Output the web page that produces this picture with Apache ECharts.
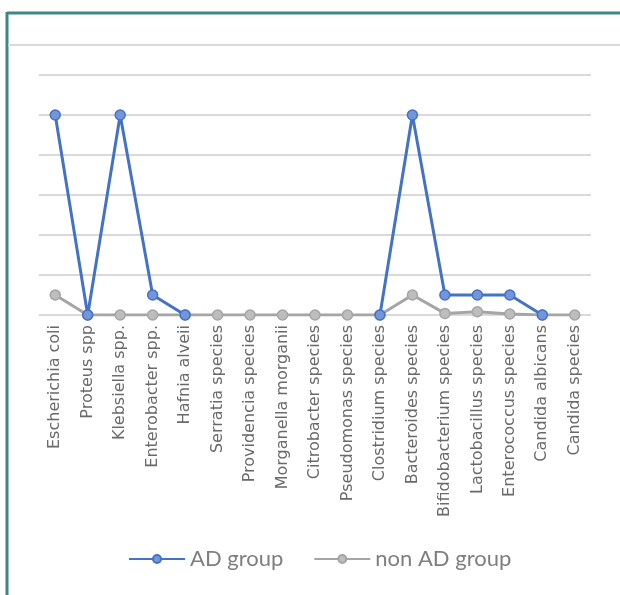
<!DOCTYPE html>
<html>
<head>
<meta charset="utf-8">
<script src="https://cdn.jsdelivr.net/npm/echarts@6/dist/echarts.min.js"></script>
<style>
  html, body { margin: 0; padding: 0; background: #fff; }
  #chart { width: 620px; height: 595px; }
</style>
</head>
<body>
<div id="chart"></div>
<script>
// Microorganism categories along the x axis
const categories = [
  'Escherichia coli', 'Proteus spp', 'Klebsiella spp.', 'Enterobacter spp.',
  'Hafnia alveii', 'Serratia species', 'Providencia species', 'Morganella morganii',
  'Citrobacter species', 'Pseudomonas species', 'Clostridium species', 'Bacteroides species',
  'Bifidobacterium species', 'Lactobacillus species', 'Enterococcus species',
  'Candida albicans', 'Candida species'
];

// Series values (AD group ends at Candida albicans)
const adGroup = [5, 0, 5, 0.5, 0, null, null, null, null, null, 0, 5, 0.5, 0.5, 0.5, 0, null];
const nonAdGroup = [0.5, 0, 0, 0, 0, 0, 0, 0, 0, 0, 0, 0.5, 0.04, 0.08, 0.025, 0, 0];

const seriesNames = ['AD group', 'non AD group'];

const chart = echarts.init(document.getElementById('chart'));

chart.setOption({
  animation: false,
  backgroundColor: '#ffffff',
  grid: { left: 39, right: 29, top: 75, height: 240, containLabel: false },
  legend: {
    data: seriesNames,
    top: 543,
    left: 123,
    itemWidth: 56,
    itemHeight: 10,
    itemGap: 30,
    textStyle: { fontFamily: 'Lato', fontSize: 22, color: '#7f7f7f', padding: [0, 0, 0, 0] }
  },
  xAxis: {
    type: 'category',
    data: categories,
    boundaryGap: true,
    axisLine: { show: false },
    axisTick: { show: false },
    axisLabel: {
      rotate: 90,
      interval: 0,
      margin: 10,
      fontFamily: 'DejaVu Sans',
      fontSize: 16,
      color: '#6a6a6a'
    }
  },
  yAxis: {
    type: 'value',
    min: 0,
    max: 6,
    interval: 1,
    axisLabel: { show: false },
    axisLine: { show: false },
    axisTick: { show: false },
    splitLine: { lineStyle: { color: '#d9d9d9', width: 2 } }
  },
  series: [
    {
      name: seriesNames[1],
      type: 'line',
      data: nonAdGroup,
      symbol: 'circle',
      symbolSize: 10,
      z: 2,
      lineStyle: { color: '#a5a5a5', width: 3 },
      itemStyle: { color: '#bdbdbd', borderColor: '#a5a5a5', borderWidth: 1.5 }
    },
    {
      name: seriesNames[0],
      type: 'line',
      data: adGroup,
      connectNulls: false,
      symbol: 'circle',
      symbolSize: 10,
      z: 3,
      lineStyle: { color: '#4472c4', width: 3 },
      itemStyle: { color: '#7395db', borderColor: '#4472c4', borderWidth: 1.5 }
    }
  ],
  graphic: [
    // frame edges on the left and top
    { type: 'line', shape: { x1: 7, y1: 13, x2: 620, y2: 13 }, style: { stroke: '#3f8583', lineWidth: 3 } },
    { type: 'line', shape: { x1: 7, y1: 12, x2: 7, y2: 595 }, style: { stroke: '#3f8583', lineWidth: 3 } },
    // separator line under the header strip
    { type: 'line', shape: { x1: 8, y1: 45, x2: 620, y2: 45 }, style: { stroke: '#d9d9d9', lineWidth: 2 } }
  ]
});
</script>
</body>
</html>
